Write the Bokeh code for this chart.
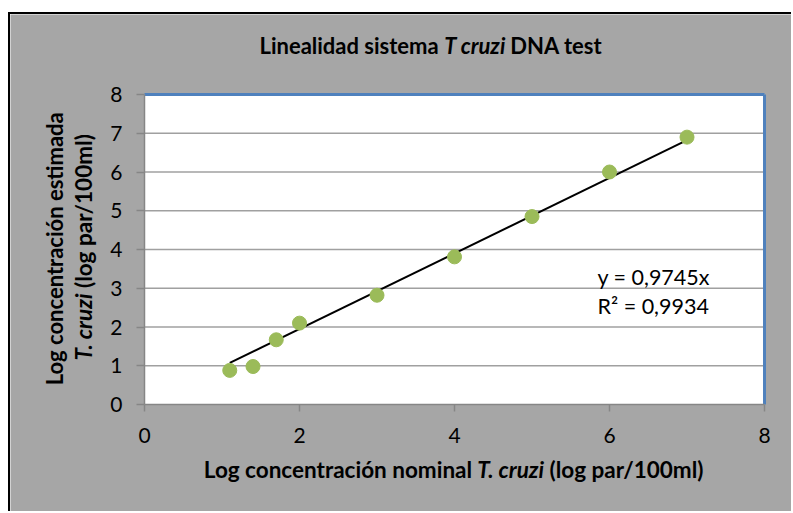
import math
from bokeh.plotting import figure
from bokeh.models import Label, FixedTicker
from bokeh.embed import file_html
from bokeh.resources import INLINE

# ---- data ----
x_nominal = [1.1, 1.4, 1.7, 2.0, 3.0, 4.0, 5.0, 6.0, 7.0]
y_estimada = [0.88, 0.98, 1.67, 2.10, 2.82, 3.81, 4.85, 6.00, 6.90]
slope = 0.9745
r2 = 0.9934
yticks = [0, 1, 2, 3, 4, 5, 6, 7, 8]
xticks = [0, 2, 4, 6, 8]

FONT = "Lato"
GRAY_BG = "#A6A6A6"

# canvas 783x499 placed at (10,14); plot area 0..8 maps to px 144..764 / 404..94
p = figure(width=783, height=499,
           min_border_left=0, min_border_right=0,
           min_border_top=0, min_border_bottom=0,
           x_range=(-1.729, 8.374), y_range=(-2.813, 10.065),
           output_backend="svg", toolbar_location=None)
p.styles = {"margin-left": "8px", "margin-top": "12px",
            "border-left": "2px solid black", "border-top": "2px solid black"}
p.border_fill_color = GRAY_BG
p.background_fill_color = GRAY_BG
p.outline_line_color = None
p.grid.visible = False

x_lo, x_hi = xticks[0], xticks[-1]
y_lo, y_hi = yticks[0], yticks[-1]

# white plot area
p.quad(left=x_lo, right=x_hi, bottom=y_lo, top=y_hi,
       fill_color="white", line_color=None)
# horizontal gridlines
gy = yticks[1:-1]
p.segment(x0=[x_lo] * len(gy), x1=[x_hi] * len(gy), y0=gy, y1=gy,
          line_color="#A0A0A0", line_width=1.5)
# top and right border of plot area
p.segment(x0=[x_lo, x_hi], x1=[x_hi, x_hi], y0=[y_hi, y_lo], y1=[y_hi, y_hi],
          line_color="#4F81BD", line_width=3)

# axes at data 0
p.yaxis.ticker = FixedTicker(ticks=yticks)
p.xaxis.ticker = FixedTicker(ticks=xticks)
p.xaxis.fixed_location = 0
p.yaxis.fixed_location = 0
p.xaxis.bounds = (x_lo, x_hi)
p.yaxis.bounds = (y_lo, y_hi)
for ax, tout, so in ((p.xaxis, 7, 16), (p.yaxis, 8, 14)):
    ax.axis_line_color = "#868686"
    ax.axis_line_width = 1.5
    ax.major_tick_line_color = "#868686"
    ax.major_tick_line_width = 1.5
    ax.major_tick_in = 0
    ax.major_tick_out = tout
    ax.minor_tick_line_color = None
    ax.major_label_text_font = FONT
    ax.major_label_text_font_size = "21px"
    ax.major_label_text_color = "black"
    ax.major_label_standoff = so

# trendline through origin
x0, x1 = min(x_nominal), max(x_nominal)
p.line([x0, x1], [slope * x0, slope * x1], line_color="black", line_width=2)

# points
p.scatter(x_nominal, y_estimada, size=14, fill_color="#9BBB59",
          line_color="#9BBB59")

def lab(x, y, text, style="bold", align="left", baseline="alphabetic",
        angle=0, size="22px"):
    p.add_layout(Label(x=x, y=y, text=text, text_font=FONT,
                       text_font_size=size, text_font_style=style,
                       text_align=align, text_baseline=baseline,
                       angle=angle, text_color="black"))

# title
lab(3.796, 9.265, "Linealidad sistema", align="right")
lab(3.867, 9.265, "T cruzi", style="bold italic")
lab(4.720, 9.265, "DNA test")

# x axis label
lab(4.227, -1.685, "Log concentración nominal", align="right", size="22.5px")
lab(4.292, -1.685, "T. cruzi", style="bold italic", size="22.5px")
lab(5.227, -1.685, "(log par/100ml)", size="22.5px")

# y axis label (two lines, rotated)
lab(-1.157, 4.018, "Log concentración estimada", align="center",
    baseline="middle", angle=math.pi / 2)
lab(-0.787, 1.135, "T. cruzi", style="bold italic", baseline="middle",
    angle=math.pi / 2, size="22.5px")
lab(-0.787, 3.006, "(log par/100ml)", baseline="middle", angle=math.pi / 2,
    size="22.5px")

# equation
lab(5.845, 3.303, "y = %s" % ("%.4f" % slope).replace(".", ",") + "x",
    style="normal", size="21.5px")
lab(5.845, 2.547, "R² = %s" % ("%.4f" % r2).replace(".", ","),
    style="normal", size="21.5px")

open("out.html", "w").write(file_html(p, INLINE))
